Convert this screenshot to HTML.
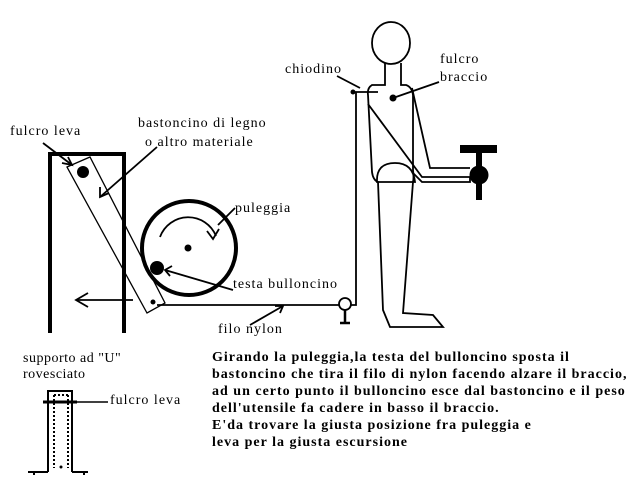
<!DOCTYPE html>
<html><head><meta charset="utf-8"><style>
html,body{margin:0;padding:0;background:#fff}
body{position:relative;width:640px;height:480px;overflow:hidden}
svg{position:absolute;left:0;top:0}
.t{position:absolute;font-family:"Liberation Serif","Times New Roman",serif;font-size:14px;line-height:14px;white-space:nowrap;letter-spacing:1px;color:#000}
.b{font-weight:bold;letter-spacing:1px}
</style></head><body>
<svg width="640" height="480" viewBox="0 0 640 480" xmlns="http://www.w3.org/2000/svg">
<rect width="640" height="480" fill="#fff"/>
<g stroke="#000" fill="none" stroke-width="1.8">
<path d="M50 333V154H124V333" stroke-width="4"/>
<polygon points="67,167 90,157 165,303 147,313" stroke-width="1.3"/>
<circle cx="189" cy="248" r="47" stroke-width="4"/>
<path d="M160 237 A30 30 0 0 1 216 236" />
<path d="M207 231 L213 239 L219 229"/>
<path d="M157 147 L100 197"/>
<path d="M100 187 L100 197 L109 193"/>
<path d="M43 143 L72 165"/>
<path d="M62 163 L72 165 L68 157"/>
<path d="M233 290 L165 270"/>
<path d="M172 266 L165 270 L170 276"/>
<path d="M235 208 L218 225"/>
<path d="M133 300 H76"/>
<path d="M88 293 L76 300 L88 307"/>
<path d="M157 305 H339"/>
<path d="M351 305 H356 V92 H378"/>
<circle cx="345" cy="304" r="6"/>
<path d="M345 310 V323 M340 323 H350" stroke-width="2.5"/>
<path d="M250 325 L283 306"/>
<path d="M275 306 L283 306 L280 313"/>
<path d="M337 76 L360 88"/>
<ellipse cx="391" cy="43" rx="19" ry="21"/>
<path d="M385 63 V85 H372 Q367 88 368 95 L372 172 Q373 180 378 182 L383 310 L390 327 H443 L433 315 L403 313 L413 182 Q414 178 413 170 L413 95 Q412 87 406 85 H401 V63"/>
<path d="M368 104 L422 177 H470 V182 H422 L412 172"/>
<path d="M412 88 L430 168 H470"/>
<path d="M377 182 Q376 163 395 163 Q413 163 415 182 Z"/>
<path d="M393 98 L439 82"/>
</g>
<g fill="#000">
<circle cx="83" cy="172" r="6"/>
<circle cx="153" cy="302" r="2.5"/>
<circle cx="188" cy="248" r="3.5"/>
<circle cx="157" cy="268" r="7"/>
<circle cx="353" cy="92" r="2.5"/>
<circle cx="393" cy="98" r="3.5"/>
<circle cx="479" cy="175" r="9.5"/>
<rect x="460" y="145" width="37" height="8"/>
<rect x="476" y="149" width="6" height="51"/>
</g>
<g stroke="#000" fill="none" stroke-width="2">
<path d="M48 472 V391 H72 V472"/>
<path d="M28 472 H48 M72 472 H88 M34 472 V475 M84 472 V475"/>
<path d="M54 395 V468 M68 395 V468 M54 395 H68" stroke-dasharray="2,2"/>
<path d="M43 402 H77" stroke-width="3"/>
<path d="M77 402 H108" stroke-width="1.5"/>
</g>
<circle cx="61" cy="467" r="1.5" fill="#000"/>
</svg>
<div class="t" style="left:285px;top:63px">chiodino</div>
<div class="t" style="left:440px;top:53px">fulcro</div>
<div class="t" style="left:440px;top:71px">braccio</div>
<div class="t" style="left:10px;top:125px">fulcro leva</div>
<div class="t" style="left:138px;top:117px">bastoncino di legno</div>
<div class="t" style="left:145px;top:136px">o altro materiale</div>
<div class="t" style="left:235px;top:202px">puleggia</div>
<div class="t" style="left:233px;top:278px">testa bulloncino</div>
<div class="t" style="left:218px;top:323px">filo nylon</div>
<div class="t" style="left:23px;top:352px;letter-spacing:0.5px">supporto ad "U"</div>
<div class="t" style="left:23px;top:368px;letter-spacing:0.5px">rovesciato</div>
<div class="t" style="left:110px;top:394px">fulcro leva</div>
<div class="t b" style="left:212px;top:351px">Girando la puleggia,la testa del bulloncino sposta il</div>
<div class="t b" style="left:212px;top:368px">bastoncino che tira il filo di nylon facendo alzare il braccio,</div>
<div class="t b" style="left:212px;top:385px">ad un certo punto il bulloncino esce dal bastoncino e il peso</div>
<div class="t b" style="left:212px;top:402px">dell'utensile fa cadere in basso il braccio.</div>
<div class="t b" style="left:212px;top:419px">E'da trovare la giusta posizione fra puleggia e</div>
<div class="t b" style="left:212px;top:436px">leva per la giusta escursione</div>
</body></html>
